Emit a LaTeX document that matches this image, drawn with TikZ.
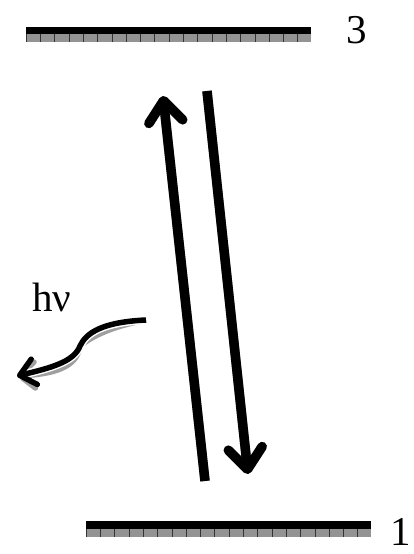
\documentclass[tikz,border=0pt]{standalone}
\usepackage{fontspec}
\setmainfont{Liberation Serif}
\usetikzlibrary{arrows.meta}
\begin{document}
\begin{tikzpicture}[x=1pt,y=-1pt,
  levelblack/.style={fill=black},
  levelgray/.style={fill=gray!85},
  tick/.style={draw=gray!40!black,line width=0.5pt},
  bigarrow/.style={line width=9.5pt,-{Straight Barb[length=21pt,width=34pt,line cap=round,round]}},
  photon/.style={line width=5.5pt,-{Straight Barb[length=15pt,width=26pt,line cap=round,round]}},
  shadowc/.style={draw=gray!75},
  lab/.style={font=\fontsize{41}{41}\selectfont,inner sep=0pt}]
\useasboundingbox (0,0) rectangle (413,554);
% level 3
\fill[levelgray] (26,34) rectangle (311,42);
\foreach \i in {0,...,19} \draw[tick] (26+\i*14.3,34) -- (26+\i*14.3,42);
\fill[levelblack] (26,27) rectangle (311,34);
\node[lab] (n3) at (357,30) {3};
% level 1
\fill[levelgray] (86,529) rectangle (371,537);
\foreach \i in {0,...,19} \draw[tick] (86+\i*14.3,529) -- (86+\i*14.3,537);
\fill[levelblack] (86,521) rectangle (371,529);
\node[lab] (n1) at (401,532) {1};
% coordinates of arrows
\coordinate (ua) at (205,481);
\coordinate (ub) at (163,96);
\coordinate (da) at (207,91);
\coordinate (db) at (248,474);
% shadows
\begin{scope}[shift={(1,6)}]
\draw[bigarrow,shadowc] (ua) -- (ub);
\draw[bigarrow,shadowc] (da) -- (db);
\end{scope}
\draw[bigarrow] (ua) -- (ub);
\draw[bigarrow] (da) -- (db);
% photon
\coordinate (ps) at (146,320);
\coordinate (pm) at (80,346);
\coordinate (pe) at (17,376);
\begin{scope}[shift={(3,6)}]
\draw[photon,shadowc] (ps) .. controls (102,322) and (86,333) .. (pm) .. controls (74,362) and (50,368) .. (pe);
\end{scope}
\draw[photon,white,line width=8.5pt,-] (ps) .. controls (102,322) and (86,333) .. (pm) .. controls (74,362) and (50,368) .. (pe);
\draw[photon] (ps) .. controls (102,322) and (86,333) .. (pm) .. controls (74,362) and (50,368) .. (pe);
\node[lab] (hv) at (52,297) {hν};
\end{tikzpicture}
\end{document}
